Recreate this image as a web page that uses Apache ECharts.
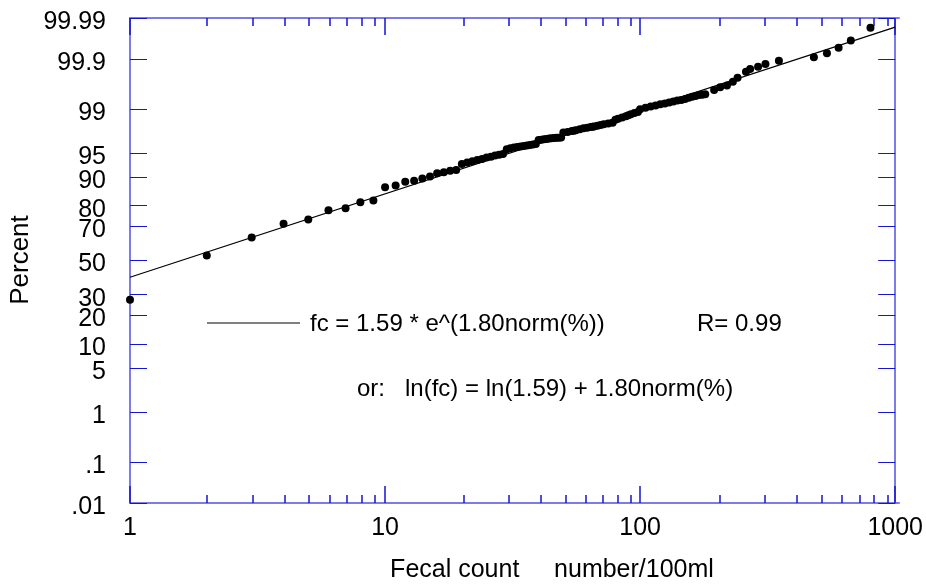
<!DOCTYPE html>
<html>
<head>
<meta charset="utf-8">
<script src="https://cdn.jsdelivr.net/npm/echarts@6/dist/echarts.min.js"></script>
<style>
html,body{margin:0;padding:0;background:#fff;}
#chart{width:926px;height:586px;}
</style>
</head>
<body>
<div id="chart"></div>
<script>
// ---- data ----
const countValues = [1,2,3,4,5,6,7,8,9,10,11,12,13,14,15,16,17,18,19,20,
  21,22,23,24,25,26,27,28,29,30,31,32,33,34,35,36,37,38,39,40,
  41,42,43,44,45,46,47,48,49,50,52,54,55,56,58,60,62,64,65,66,68,70,72,75,78,
  80,82,85,88,90,92,95,98,100,105,110,115,120,125,130,135,140,145,150,155,160,165,170,175,180,
  195,206,219,231,241,260,270,290,310,350,480,540,600,670,800];
const cumPercent = [27.35,53.05,63.77,71.31,73.51,78.00,78.90,81.46,82.11,86.96,87.48,88.61,88.90,89.54,90.10,90.98,91.22,91.54,91.77,93.08,
  93.38,93.59,93.82,94.00,94.28,94.43,94.62,94.75,94.88,95.61,95.74,95.86,95.90,95.97,96.05,96.11,96.18,96.24,96.29,96.76,
  96.80,96.85,96.89,96.93,96.96,96.99,97.01,97.02,97.03,97.51,97.57,97.64,97.68,97.72,97.80,97.87,97.92,97.96,97.98,98.01,98.06,98.12,98.16,98.22,98.27,
  98.46,98.51,98.58,98.65,98.70,98.75,98.81,98.86,98.98,99.04,99.09,99.13,99.17,99.20,99.23,99.26,99.29,99.31,99.34,99.37,99.40,99.42,99.44,99.45,99.46,
  99.555,99.606,99.634,99.695,99.748,99.811,99.834,99.852,99.871,99.891,99.909,99.926,99.945,99.963,99.982];
const fitCounts = [1, 1000];
const fitPercents = [39.84, 99.9828];
const yTickPercents = [0.01, 0.1, 1, 5, 10, 20, 30, 50, 70, 80, 90, 95, 99, 99.9, 99.99];
const yTickLabels = ['.01', '.1', '1', '5', '10', '20', '30', '50', '70', '80', '90', '95', '99', '99.9', '99.99'];
const xMajorTicks = [1, 10, 100, 1000];
const xMinorTicks = [2,3,4,5,6,7,8,9,20,30,40,50,60,70,80,90,200,300,400,500,600,700,800,900];
const xTickLabels = ['1', '10', '100', '1000'];
const equationText = 'fc = 1.59 * e^(1.80norm(%))';
const rText = 'R= 0.99';
const altText = 'or:   ln(fc) = ln(1.59) + 1.80norm(%)';
const xTitle = 'Fecal count     number/100ml';
const yTitle = 'Percent';

// inverse normal CDF (probability scale)
function probit(p) {
  const a=[-3.969683028665376e+01,2.209460984245205e+02,-2.759285104469687e+02,1.383577518672690e+02,-3.066479806614716e+01,2.506628277459239e+00];
  const b=[-5.447609879822406e+01,1.615858368580409e+02,-1.556989798598866e+02,6.680131188771972e+01,-1.328068155288572e+01];
  const c=[-7.784894002430293e-03,-3.223964580411365e-01,-2.400758277161838e+00,-2.549671010429161e+00,4.374664141464968e+00,2.938163982698783e+00];
  const d=[7.784695709041462e-03,3.224671290700398e-01,2.445134137142996e+00,3.754408661907416e+00];
  const pl=0.02425, ph=1-pl; let q, r;
  if (p < pl) { q=Math.sqrt(-2*Math.log(p)); return (((((c[0]*q+c[1])*q+c[2])*q+c[3])*q+c[4])*q+c[5])/((((d[0]*q+d[1])*q+d[2])*q+d[3])*q+1); }
  if (p > ph) { q=Math.sqrt(-2*Math.log(1-p)); return -(((((c[0]*q+c[1])*q+c[2])*q+c[3])*q+c[4])*q+c[5])/((((d[0]*q+d[1])*q+d[2])*q+d[3])*q+1); }
  q=p-0.5; r=q*q;
  return (((((a[0]*r+a[1])*r+a[2])*r+a[3])*r+a[4])*r+a[5])*q/(((((b[0]*r+b[1])*r+b[2])*r+b[3])*r+b[4])*r+1);
}
const yTickZ = yTickPercents.map(p => probit(p/100));
const yMin = yTickZ[0], yMax = yTickZ[yTickZ.length-1];
function yLabel(v) {
  let best = 0, bd = Infinity;
  yTickZ.forEach((z,i) => { const dd = Math.abs(z - v); if (dd < bd) { bd = dd; best = i; } });
  return '{p|' + yTickLabels[best] + '}';
}
function xLabel(v) {
  let best = 0, bd = Infinity;
  xMajorTicks.forEach((t,i) => { const dd = Math.abs(Math.log10(t) - Math.log10(v)); if (dd < bd) { bd = dd; best = i; } });
  return xTickLabels[best];
}

const FONT = '"Liberation Sans", Arial, sans-serif';
const AXC = '#7c7ce8';
const TKC = '#1414d2';

const pts = countValues.map((v,i) => [v, probit(cumPercent[i]/100)]);
const fit = fitCounts.map((v,i) => [v, probit(fitPercents[i]/100)]);

// main log axes (decade ticks, labels)
function xLogAx(pos, showLabel) {
  return {
    gridIndex: 0, type: 'log', min: 1, max: 1000, position: pos,
    axisLine: { onZero: false, lineStyle: { color: AXC, width: 2 } },
    axisTick: { show: true, inside: true, length: 17, lineStyle: { color: TKC, width: 1.5 } },
    axisLabel: { show: showLabel, formatter: xLabel, color: '#000',
      fontFamily: FONT, fontSize: 25, margin: 13 },
    splitLine: { show: false }
  };
}
// decoration axes for the 2..9 minor ticks (positions in decades)
function xMinorAx(pos) {
  return {
    gridIndex: 1, type: 'value', min: 0, max: 3, position: pos,
    axisLine: { show: true, onZero: false, lineStyle: { color: AXC, width: 2 } },
    axisTick: { show: true, inside: true, length: 8, customValues: xMinorTicks.map(v => Math.log10(v)),
      lineStyle: { color: TKC, width: 1.5 } },
    axisLabel: { show: false }, splitLine: { show: false }
  };
}
function yAx(grid, pos, showLabel, show) {
  return {
    gridIndex: grid, show: show, type: 'value', min: yMin, max: yMax, position: pos,
    axisLine: { show: true, onZero: false, lineStyle: { color: AXC, width: 2 } },
    axisTick: { show: true, inside: true, length: 17, customValues: yTickZ, lineStyle: { color: TKC, width: 1 } },
    axisLabel: { show: showLabel, customValues: yTickZ, formatter: yLabel, color: '#000',
      fontFamily: FONT, fontSize: 25, margin: 24, showMinLabel: true, showMaxLabel: true,
      rich: { p: { fontFamily: FONT, fontSize: 25, color: '#000', padding: [8, 0, 0, 0] } } },
    splitLine: { show: false }
  };
}

const gridRect = { left: 130, top: 18, right: 27, bottom: 83, containLabel: false };
const chart = echarts.init(document.getElementById('chart'), null, { renderer: 'canvas' });
chart.setOption({
  animation: false,
  backgroundColor: '#fff',
  grid: [ Object.assign({}, gridRect), Object.assign({}, gridRect) ],
  xAxis: [ xLogAx('bottom', true), xLogAx('top', false), xMinorAx('bottom'), xMinorAx('top') ],
  yAxis: [ yAx(0, 'left', true, true), yAx(0, 'right', false, true), yAx(1, 'left', false, false) ],
  series: [
    { type: 'line', data: fit, xAxisIndex: 0, yAxisIndex: 0, showSymbol: false, symbol: 'none',
      lineStyle: { color: '#000', width: 1.2 }, z: 2, silent: true },
    { type: 'scatter', data: pts, xAxisIndex: 0, yAxisIndex: 0, symbol: 'circle', symbolSize: 8,
      itemStyle: { color: '#000', opacity: 1 }, z: 3, silent: true }
  ],
  graphic: [
    { type: 'line', shape: { x1: 207, y1: 323, x2: 300, y2: 323 }, style: { stroke: '#000', lineWidth: 1 } },
    { type: 'text', x: 310, y: 324, style: { text: equationText, font: '24px ' + FONT, fill: '#000', verticalAlign: 'middle' } },
    { type: 'text', x: 697, y: 324, style: { text: rText, font: '24px ' + FONT, fill: '#000', verticalAlign: 'middle' } },
    { type: 'text', x: 357, y: 389, style: { text: altText, font: '24px ' + FONT, fill: '#000', verticalAlign: 'middle' } },
    { type: 'text', x: 21, y: 260, rotation: Math.PI/2, style: { text: yTitle, font: '26px ' + FONT, fill: '#000', align: 'center', verticalAlign: 'middle' } },
    { type: 'text', x: 552, y: 570, style: { text: xTitle, font: '25px ' + FONT, fill: '#000', align: 'center', verticalAlign: 'middle' } }
  ]
});
</script>
</body>
</html>
